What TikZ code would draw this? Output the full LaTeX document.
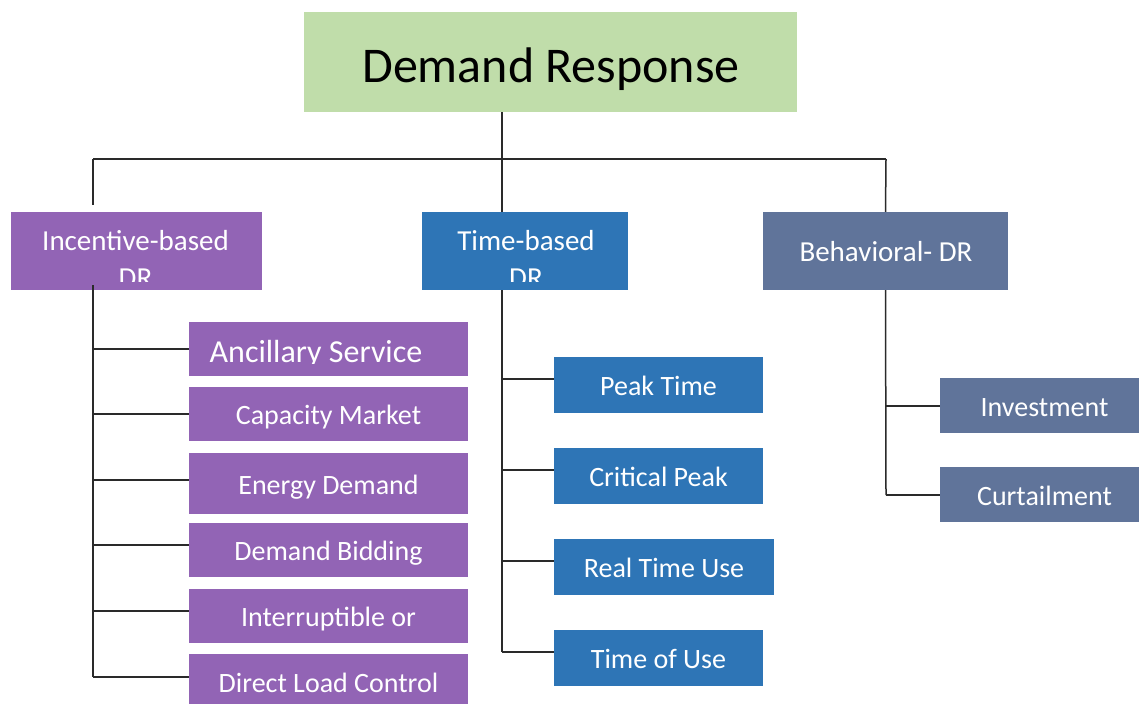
\documentclass[tikz,border=0pt]{standalone}
\usepackage{fontspec}
\setmainfont{Carlito}
\definecolor{drgreen}{HTML}{C0DDAA}
\definecolor{drpurple}{HTML}{9264B5}
\definecolor{drblue}{HTML}{2E75B6}
\definecolor{drslate}{HTML}{60749A}
\definecolor{linegray}{HTML}{2A2A2A}
\begin{document}
\begin{tikzpicture}[x=1pt,y=-1pt,
  box/.style={draw=none,inner sep=0pt,text=white,
    font=\fontsize{28}{34}\selectfont,text height=21pt,text depth=0pt},
  wire/.style={draw=linegray,line width=1.5pt}]
\useasboundingbox (0,0) rectangle (1139,704);

% root
\node[box,fill=drgreen,minimum width=493pt,minimum height=100pt] (root) at (550.5,62) {};
\node[anchor=base,inner sep=0pt,font=\fontsize{50}{60}\selectfont] (rootlabel) at (551,82) {Demand Response};

% second level
\node[box,fill=drpurple,minimum width=251pt,minimum height=78pt] (inc) at (136.5,251) {};
\node[box,fill=drblue,minimum width=206pt,minimum height=78pt] (tim) at (525,251) {};
\node[box,fill=drslate,minimum width=245pt,minimum height=78pt] (beh) at (885.5,251) {};

\begin{scope}
  \clip (11,212) rectangle (262,281);
  \node[anchor=base,inner sep=0pt,text=white,font=\fontsize{29}{37}\selectfont] (incA) at (135.5,250) {Incentive-based};
  \node[anchor=base,inner sep=0pt,text=white,font=\fontsize{29}{37}\selectfont] (incB) at (135.5,287) {DR};
\end{scope}
\begin{scope}
  \clip (422,212) rectangle (628,281);
  \node[anchor=base,inner sep=0pt,text=white,font=\fontsize{29}{37}\selectfont] (timA) at (526,250) {Time-based};
  \node[anchor=base,inner sep=0pt,text=white,font=\fontsize{29}{37}\selectfont] (timB) at (526,287) {DR};
\end{scope}
\node[anchor=base,inner sep=0pt,text=white,font=\fontsize{29}{37}\selectfont] (behlabel) at (886,261) {Behavioral- DR};

% incentive-based programmes
\node[box,fill=drpurple,minimum width=279pt,minimum height=54pt] (anc) at (328.5,349) {};
\begin{scope}
  \clip (189,322) rectangle (468,363);
  \node[anchor=base,inner sep=0pt,text=white,font=\fontsize{32}{38}\selectfont] (anclabel) at (316,362) {Ancillary Service};
\end{scope}
\node[box,fill=drpurple,minimum width=279pt,minimum height=54pt] (cap) at (328.5,414) {Capacity Market};
\node[box,fill=drpurple,minimum width=279pt,minimum height=61pt] (ene) at (328.5,483.5) {Energy Demand};
\node[box,fill=drpurple,minimum width=279pt,minimum height=54pt] (bid) at (328.5,550) {Demand Bidding};
\node[box,fill=drpurple,minimum width=279pt,minimum height=54pt] (int) at (328.5,616) {Interruptible or};
\node[box,fill=drpurple,minimum width=279pt,minimum height=50pt] (dlc) at (328.5,679) {\raisebox{-2.5pt}{Direct Load Control}};

% time-based programmes
\node[box,fill=drblue,minimum width=209pt,minimum height=56pt] (peak) at (658.5,385) {Peak Time};
\node[box,fill=drblue,minimum width=209pt,minimum height=56pt] (crit) at (658.5,476) {Critical Peak};
\node[box,fill=drblue,minimum width=220pt,minimum height=56pt] (real) at (664,567) {Real Time Use};
\node[box,fill=drblue,minimum width=209pt,minimum height=56pt] (tou) at (658.5,658) {Time of Use};

% behavioural programmes
\node[box,fill=drslate,minimum width=199pt,minimum height=55pt] (inv) at (1039.5,405.5) {\hspace*{10pt}Investment};
\node[box,fill=drslate,minimum width=199pt,minimum height=55pt] (cur) at (1039.5,494.5) {\hspace*{10pt}Curtailment};

% junctions of the top bus
\coordinate (rootdrop) at (502,112);
\coordinate (busL) at (93,159);
\coordinate (busM) at (502,159);
\coordinate (busR) at (886,159);
\coordinate (busLend) at (93,205);
\coordinate (timtop) at (502,212);

\draw[wire] (rootdrop) -- (busM);
\draw[wire] (busL) -- (busR);
\draw[wire] (busL) -- (busLend);
\draw[wire] (busM) -- (timtop);
\draw[wire] (busR) -- (beh.north);

% incentive trunk
\coordinate (iTop) at (93,285);
\coordinate (i1) at (93,349);
\coordinate (i2) at (93,414);
\coordinate (i3) at (93,480);
\coordinate (i4) at (93,545);
\coordinate (i5) at (93,611);
\coordinate (i6) at (93,677);
\draw[wire] (iTop) -- (i6);
\draw[wire] (i1) -- (i1 -| anc.west);
\draw[wire] (i2) -- (i2 -| cap.west);
\draw[wire] (i3) -- (i3 -| ene.west);
\draw[wire] (i4) -- (i4 -| bid.west);
\draw[wire] (i5) -- (i5 -| int.west);
\draw[wire] (i6) -- (i6 -| dlc.west);

% time trunk
\coordinate (tTop) at (502,290);
\coordinate (t1) at (502,379);
\coordinate (t2) at (502,470);
\coordinate (t3) at (502,561);
\coordinate (t4) at (502,652);
\draw[wire] (tTop) -- (t4);
\draw[wire] (t1) -- (t1 -| peak.west);
\draw[wire] (t2) -- (t2 -| crit.west);
\draw[wire] (t3) -- (t3 -| real.west);
\draw[wire] (t4) -- (t4 -| tou.west);

% behavioural trunk
\coordinate (b1) at (886,406);
\coordinate (b2) at (886,495);
\draw[wire] (beh.south) -- (b2);
\draw[wire] (b1) -- (b1 -| inv.west);
\draw[wire] (b2) -- (b2 -| cur.west);
\end{tikzpicture}
\end{document}
